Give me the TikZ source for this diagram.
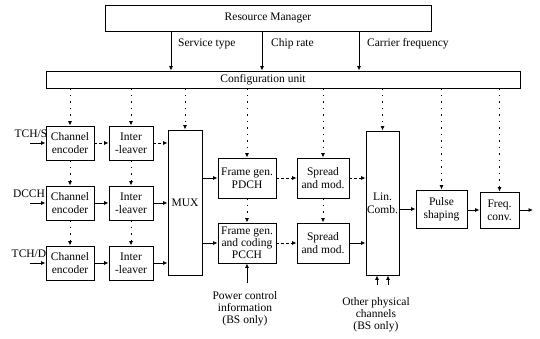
\documentclass[tikz,border=0pt]{standalone}
\usepackage{fontspec}
\setmainfont{Liberation Serif}
\usetikzlibrary{arrows.meta}
\begin{document}
\begin{tikzpicture}[x=1pt,y=-1pt,
  font=\fontsize{11.5}{13}\selectfont,
  box/.style={draw,line width=0.9pt,align=center,inner sep=0pt},
  arr/.style={line width=0.8pt,-{Latex[length=4.5pt,width=4pt]}},
  dotarr/.style={line width=0.9pt,dash pattern=on 1.5pt off 5pt,-{Latex[length=4.5pt,width=4pt]}},
  dasharr/.style={line width=0.8pt,dash pattern=on 3pt off 2pt,-{Latex[length=4.5pt,width=4pt]}},
  lbl/.style={inner sep=0pt,align=center}]
\useasboundingbox (0,0) rectangle (540,338);
% top boxes
\node[box,minimum width=326pt,minimum height=26pt] (rm) at (268,18) {Resource Manager};
\node[box,minimum width=474pt,minimum height=17pt] (cfg) at (283,79.5) {};
\node[lbl] (cfgt) at (263,80) {Configuration unit};
% RM arrows
\coordinate (a1) at (171,31);
\coordinate (a2) at (262,31);
\coordinate (a3) at (359,31);
\draw[arr] (a1) -- (a1 |- cfg.north);
\draw[arr] (a2) -- (a2 |- cfg.north);
\draw[arr] (a3) -- (a3 |- cfg.north);
\node[lbl,anchor=west] (st) at (178,44) {Service type};
\node[lbl,anchor=west] (cr) at (271,44) {Chip rate};
\node[lbl,anchor=west] (cf) at (367,44) {Carrier frequency};
% row boxes
\node[box,minimum width=48pt,minimum height=34pt] (e1) at (70,143) {Channel\\encoder};
\node[box,minimum width=48pt,minimum height=34pt] (e2) at (70,203) {Channel\\encoder};
\node[box,minimum width=48pt,minimum height=34pt] (e3) at (70,263) {Channel\\encoder};
\node[box,minimum width=44pt,minimum height=34pt] (i1) at (131,143) {Inter\\-leaver};
\node[box,minimum width=44pt,minimum height=34pt] (i2) at (131,203) {Inter\\-leaver};
\node[box,minimum width=44pt,minimum height=34pt] (i3) at (131,263) {Inter\\-leaver};
\node[box,minimum width=34pt,minimum height=145pt] (mux) at (185,202.5) {MUX};
\node[box,minimum width=58pt,minimum height=40pt] (f1) at (247,178) {Frame gen.\\PDCH};
\node[box,minimum width=58pt,minimum height=40pt,font=\fontsize{11.5}{12}\selectfont] (f2) at (247,243) {Frame gen.\\and coding\\PCCH};
\node[box,minimum width=52pt,minimum height=40pt] (s1) at (323,178) {Spread\\and mod.};
\node[box,minimum width=52pt,minimum height=40pt] (s2) at (323,243) {Spread\\and mod.};
\node[box,minimum width=33pt,minimum height=144pt] (lin) at (382.5,203) {Lin.\\Comb.};
\node[box,minimum width=51pt,minimum height=38pt] (ps) at (441.5,209) {Pulse\\shaping};
\node[box,minimum width=39pt,minimum height=36pt] (fc) at (499.5,210) {Freq.\\conv.};
% inputs
\node[lbl] (l1) at (31,134) {TCH/S};
\node[lbl] (l2) at (29,194) {DCCH};
\node[lbl] (l3) at (29,254) {TCH/D};
\coordinate (in1) at (30,143);
\coordinate (in2) at (30,203);
\coordinate (in3) at (30,263);
\draw[arr] (in1) -- (e1.west);
\draw[arr] (in2) -- (e2.west);
\draw[arr] (in3) -- (e3.west);
% horizontal flows
\draw[dasharr] (e1.east) -- (i1.west);
\draw[arr] (e2.east) -- (i2.west);
\draw[arr] (e3.east) -- (i3.west);
\draw[dasharr] (i1.east) -- (i1.east -| mux.west);
\draw[arr] (i2.east) -- (i2.east -| mux.west);
\draw[arr] (i3.east) -- (i3.east -| mux.west);
\draw[arr] (mux.east |- f1.west) -- (f1.west);
\draw[arr] (mux.east |- f2.west) -- (f2.west);
\draw[dasharr] (f1.east) -- (s1.west);
\draw[dasharr] (f2.east) -- (s2.west);
\draw[dasharr] (s1.east) -- (s1.east -| lin.west);
\draw[arr] (s2.east) -- (s2.east -| lin.west);
\draw[arr] (lin.east |- ps.west) -- (ps.west);
\draw[arr] (ps.east |- fc.west) -- (fc.west);
\coordinate (out) at (533,210);
\draw[arr] (fc.east) -- (out);
% dotted control lines
\foreach \n in {e1,i1,mux,f1,s1,lin,ps,fc}
  \draw[dotarr] (\n.north |- cfg.south) -- (\n.north);
\draw[dotarr] (e1.south) -- (e2.north);
\draw[dotarr] (e2.south) -- (e3.north);
\draw[dotarr] (i1.south) -- (i2.north);
\draw[dotarr] (i2.south) -- (i3.north);
\draw[dotarr] (f1.south) -- (f2.north);
\draw[dotarr] (s1.south) -- (s2.north);
% bottom inputs
\coordinate (pc) at (247,283);
\draw[arr] (pc) -- (f2.south);
\coordinate (o1) at (377,285);
\coordinate (o2) at (388,285);
\draw[arr] (o1) -- (o1 |- lin.south);
\draw[arr] (o2) -- (o2 |- lin.south);
\node[lbl,anchor=north,font=\fontsize{11.5}{12}\selectfont] (pct) at (245,291) {Power control\\information\\(BS only)};
\node[lbl,anchor=north,font=\fontsize{11.5}{12}\selectfont] (opt) at (376,297) {Other physical\\channels\\(BS only)};
\end{tikzpicture}
\end{document}
